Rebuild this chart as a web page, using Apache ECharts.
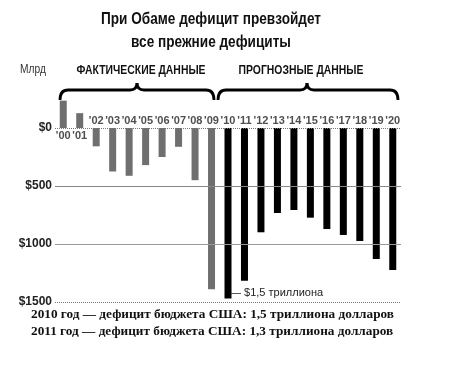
<!DOCTYPE html>
<html><head><meta charset="utf-8">
<script src="https://cdn.jsdelivr.net/npm/echarts@6/dist/echarts.min.js"></script>
<style>html,body{margin:0;padding:0;background:#fff}#c{width:449px;height:366px}</style>
</head><body><div id="c"></div>
<script>
const years = ["'00","'01","'02","'03","'04","'05","'06","'07","'08","'09","'10","'11","'12","'13","'14","'15","'16","'17","'18","'19","'20"];
const actual = [236,128,-158,-375,-412,-320,-250,-162,-450,-1390,null,null,null,null,null,null,null,null,null,null,null];
const forecast = [null,null,null,null,null,null,null,null,null,null,-1470,-1316,-899,-733,-707,-773,-871,-922,-974,-1129,-1224];
const yTicks = [0,-500,-1000,-1500];
const title1 = 'При Обаме дефицит превзойдет';
const title2 = 'все прежние дефициты';
const unitLabel = 'Млрд';
const groupActual = 'ФАКТИЧЕСКИЕ ДАННЫЕ';
const groupForecast = 'ПРОГНОЗНЫЕ ДАННЫЕ';
const note = '$1,5 триллиона';
const footer1 = '2010 год — дефицит бюджета США: 1,5 триллиона долларов';
const footer2 = '2011 год — дефицит бюджета США: 1,3 триллиона долларов';

const SANS = "'Liberation Sans',Arial,sans-serif";
const chart = echarts.init(document.getElementById('c'), null, {renderer:'canvas'});
const lineStyles = [
  {type:'dotted', color:'#777', width:1},
  {type:'solid', color:'#888', width:1},
  {type:'solid', color:'#999', width:1},
  {type:'dotted', color:'#777', width:1}
];
function txt(x, y, text, font, align, sx, fill){
  return {type:'text', x:x, y:y, scaleX:sx||1,
    style:{text:text, textAlign:align, textVerticalAlign:'middle', font:font, fill:fill||'#111'}};
}
function brace(x0, xm, x1, yb, yh, yp){
  const st = {stroke:'#000', lineWidth:2.8, fill:null};
  return [
    {type:'bezierCurve', shape:{x1:x0,y1:yb,x2:x0+8,y2:yh,cpx1:x0,cpy1:yh}, style:st},
    {type:'line', shape:{x1:x0+8,y1:yh,x2:xm-7,y2:yh}, style:st},
    {type:'bezierCurve', shape:{x1:xm-7,y1:yh,x2:xm,y2:yp,cpx1:xm,cpy1:yh}, style:st},
    {type:'bezierCurve', shape:{x1:xm,y1:yp,x2:xm+7,y2:yh,cpx1:xm,cpy1:yh}, style:st},
    {type:'line', shape:{x1:xm+7,y1:yh,x2:x1-8,y2:yh}, style:st},
    {type:'bezierCurve', shape:{x1:x1-8,y1:yh,x2:x1,y2:yb,cpx1:x1,cpy1:yh}, style:st}
  ];
}
// year labels sit on the zero line: above it for deficits, below it for surpluses
const yearLabels = years.map((y, i) => {
  const v = actual[i] != null ? actual[i] : forecast[i];
  return {value:[y, 0], label:{position: v > 0 ? 'bottom' : 'top'}};
});
chart.setOption({
  animation:false,
  grid:{left:55, right:48, top:99, bottom:64},
  xAxis:{type:'category', data:years, boundaryGap:true,
     axisLine:{show:false}, axisTick:{show:false}, axisLabel:{show:false}},
  yAxis:{type:'value', min:-1500, max:250, interval:500,
    axisLine:{show:false}, axisTick:{show:false}, splitLine:{show:false},
    axisLabel:{margin:3, fontSize:12, fontWeight:'bold', color:'#222', fontFamily:SANS,
      formatter:v=> v>0 ? '' : '$'+Math.abs(v)}},
  series:[
    {type:'line', data:[], z:1, silent:true,
     markLine:{silent:true, symbol:'none', label:{show:false},
       data: yTicks.map((t,i)=>({yAxis:t, lineStyle:lineStyles[i]}))}},
    {type:'bar', name:'actual', data:actual, barWidth:7, barGap:'-100%', z:2,
     itemStyle:{color:'#6f6f6f'}},
    {type:'bar', name:'forecast', data:forecast, barWidth:7, barGap:'-100%', z:2,
     itemStyle:{color:'#000'},
     markPoint:{symbol:'circle', symbolSize:0,
       data:[{coord:[10, forecast[10]], value:note}],
       label:{show:true, position:'right', distance:2, offset:[0,-6],
         formatter:'— '+note, fontSize:11, color:'#222', fontFamily:SANS}}},
    {type:'scatter', name:'years', data:yearLabels, symbolSize:0, z:3, silent:true,
     label:{show:true, distance:2, formatter:p=>p.value[0], fontSize:11, fontWeight:'bold',
       color:'#222', fontFamily:SANS}}
  ],
  graphic:[
    txt(211, 20, title1, "bold 16px "+SANS, 'center', 0.85),
    txt(211, 43, title2, "bold 16px "+SANS, 'center', 0.85),
    txt(20, 70, unitLabel, "12px "+SANS, 'left', 0.85, '#333'),
    txt(141, 70, groupActual, "bold 13px "+SANS, 'center', 0.8),
    txt(301, 70, groupForecast, "bold 13px "+SANS, 'center', 0.8),
    ...brace(60, 137, 214, 100, 90, 83),
    ...brace(218, 307, 398, 100, 90, 83),
    txt(31, 315, footer1, "bold 13px 'Liberation Serif',serif", 'left', 1.02),
    txt(31, 332, footer2, "bold 13px 'Liberation Serif',serif", 'left', 1.02)
  ]
});
</script></body></html>
